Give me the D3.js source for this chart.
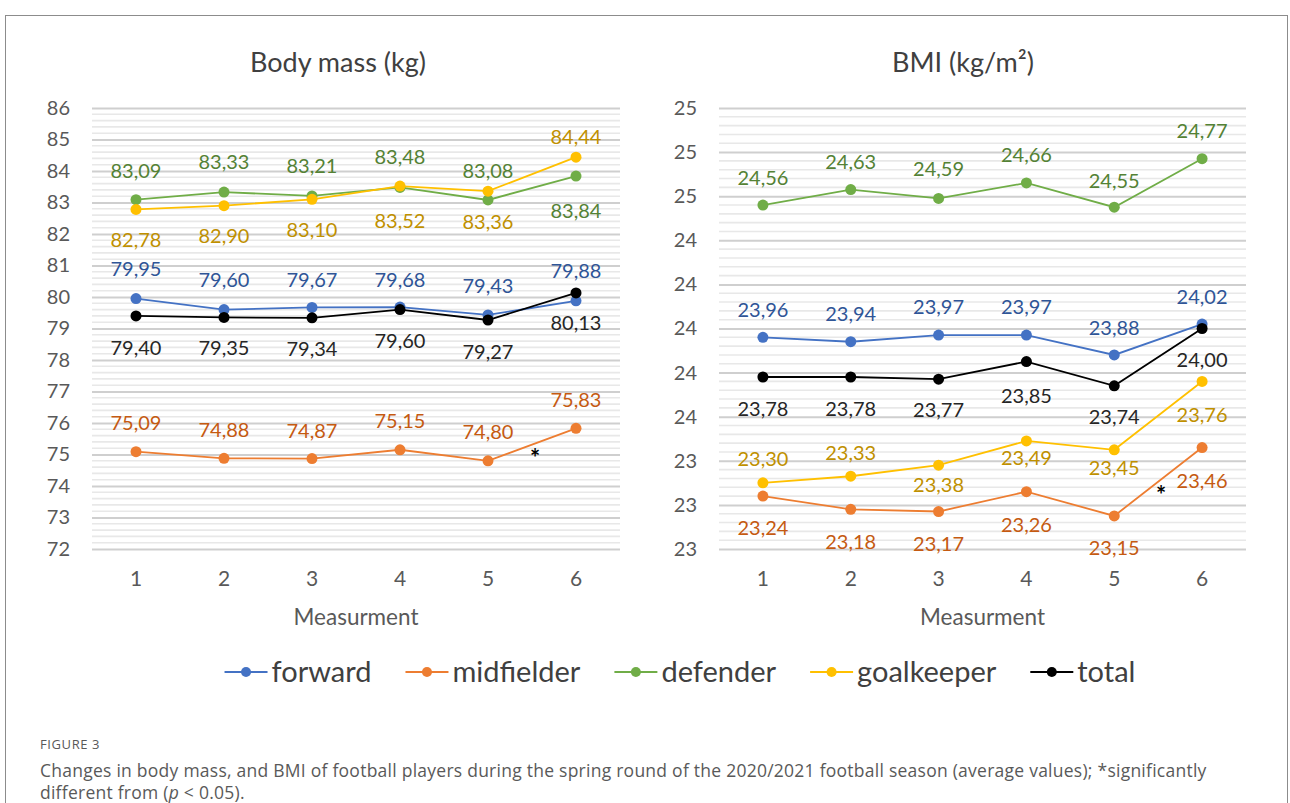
<!DOCTYPE html>
<html>
<head>
<meta charset="utf-8">
<script src="https://cdn.jsdelivr.net/npm/d3@7"></script>
<style>
  html, body { margin: 0; padding: 0; background: #fff; }
  svg { display: block; }
</style>
</head>
<body>
<svg></svg>
<script>
'use strict';

const svgWidth = 1290;
const svgHeight = 803;

// data
const measurements = [1, 2, 3, 4, 5, 6];
const seriesNames = ['forward', 'midfielder', 'defender', 'goalkeeper', 'total'];

const massForward = [79.95, 79.60, 79.67, 79.68, 79.43, 79.88];
const massMidfielder = [75.09, 74.88, 74.87, 75.15, 74.80, 75.83];
const massDefender = [83.09, 83.33, 83.21, 83.48, 83.08, 83.84];
const massGoalkeeper = [82.78, 82.90, 83.10, 83.52, 83.36, 84.44];
const massTotal = [79.40, 79.35, 79.34, 79.60, 79.27, 80.13];
const massTicks = [72, 73, 74, 75, 76, 77, 78, 79, 80, 81, 82, 83, 84, 85, 86];

const bmiForward = [23.96, 23.94, 23.97, 23.97, 23.88, 24.02];
const bmiMidfielder = [23.24, 23.18, 23.17, 23.26, 23.15, 23.46];
const bmiDefender = [24.56, 24.63, 24.59, 24.66, 24.55, 24.77];
const bmiGoalkeeper = [23.30, 23.33, 23.38, 23.49, 23.45, 23.76];
const bmiTotal = [23.78, 23.78, 23.77, 23.85, 23.74, 24.00];
const bmiTicks = [23.0, 23.2, 23.4, 23.6, 23.8, 24.0, 24.2, 24.4, 24.6, 24.8, 25.0];

// label offsets (px, relative to the point)
const massLabelDy = {
  forward: [-30, -30, -27, -27, -29, -30],
  midfielder: [-29, -28, -28, -29, -29, -28],
  defender: [-29, -30, -30, -30, -29, 35],
  goalkeeper: [31, 30, 31, 35, 31, -20],
  total: [32, 31, 31, 31, 32, 30]
};
const bmiLabelDy = {
  forward: [-27, -28, -28, -28, -27, -27],
  midfielder: [32, 33, 32, 33, 32, 33],
  defender: [-27, -28, -29, -28, -26, -28],
  goalkeeper: [-24, -23, 20, 17, 18, 34],
  total: [32, 32, 31, 34, 31, 31]
};

const lineColor = {
  forward: '#4472c4', midfielder: '#ed7d31', defender: '#70ad47',
  goalkeeper: '#ffc000', total: '#000000'
};
const labelColor = {
  forward: '#2f5597', midfielder: '#c55a11', defender: '#548235',
  goalkeeper: '#bf9000', total: '#262626'
};

const chartFont = 'Lato, "Open Sans", sans-serif';

const svg = d3.select('svg')
  .attr('width', svgWidth)
  .attr('height', svgHeight)
  .style('font-family', chartFont);

// outer frame
svg.append('rect')
  .attr('x', 5.5).attr('y', 15.5)
  .attr('width', 1282).attr('height', 820)
  .attr('fill', 'none')
  .attr('stroke', '#8c8c8c')
  .attr('stroke-width', 1);

function drawPanel(opt) {
  const g = svg.append('g');

  const x = d3.scaleBand()
    .domain(measurements)
    .range([opt.left, opt.right]);
  const cx = d => x(d) + x.bandwidth() / 2;

  const y = d3.scaleLinear()
    .domain(opt.domain)
    .range([549, 108]);

  // minor grid
  const minor = [];
  for (let i = 0; i < opt.ticks.length - 1; i++) {
    for (let k = 1; k < 5; k++) {
      minor.push(opt.ticks[i] + (opt.ticks[i + 1] - opt.ticks[i]) * k / 5);
    }
  }
  g.selectAll('line.minor')
    .data(minor)
    .join('line')
    .attr('class', 'minor')
    .attr('x1', opt.left).attr('x2', opt.right)
    .attr('y1', d => y(d)).attr('y2', d => y(d))
    .attr('stroke', '#e8e8e8')
    .attr('stroke-width', 1.6);

  // major grid + y axis labels
  const yAxis = d3.axisLeft(y)
    .tickValues(opt.ticks)
    .tickFormat(opt.tickFormat)
    .tickSize(-(opt.right - opt.left))
    .tickPadding(22);
  const ya = g.append('g')
    .attr('transform', `translate(${opt.left},0)`)
    .call(yAxis);
  ya.select('.domain').remove();
  ya.selectAll('line').attr('stroke', '#cfcfcf').attr('stroke-width', 2);
  ya.selectAll('text')
    .attr('fill', '#595959')
    .style('font-size', '20px')
    .style('font-family', chartFont);

  // x axis labels
  const xAxis = d3.axisBottom(x).tickSize(0).tickPadding(22);
  const xa = g.append('g')
    .attr('transform', 'translate(0,549)')
    .call(xAxis);
  xa.select('.domain').remove();
  xa.selectAll('text')
    .attr('fill', '#595959')
    .style('font-size', '21px')
    .style('font-family', chartFont);

  g.append('text')
    .attr('x', (opt.left + opt.right) / 2)
    .attr('y', 625)
    .attr('text-anchor', 'middle')
    .attr('fill', '#595959')
    .style('font-size', '22.5px')
    .text('Measurment');

  // title
  g.append('text')
    .attr('x', opt.titleX)
    .attr('y', 72)
    .attr('text-anchor', 'middle')
    .attr('fill', '#404040')
    .style('font-size', '27px')
    .text(opt.title);

  const line = d3.line()
    .x(d => cx(d.m))
    .y(d => y(d.v));

  seriesNames.forEach(name => {
    const pts = opt.series[name].map((v, i) => ({ m: measurements[i], v: v, i: i }));
    g.append('path')
      .datum(pts)
      .attr('fill', 'none')
      .attr('stroke', lineColor[name])
      .attr('stroke-width', 1.8)
      .attr('d', line);
    g.selectAll(null)
      .data(pts)
      .join('circle')
      .attr('cx', d => cx(d.m))
      .attr('cy', d => y(d.v))
      .attr('r', 5.5)
      .attr('fill', lineColor[name]);
    g.selectAll(null)
      .data(pts)
      .join('text')
      .attr('x', d => cx(d.m))
      .attr('y', d => y(d.v) + opt.labelDy[name][d.i])
      .attr('dy', '0.35em')
      .attr('text-anchor', 'middle')
      .attr('fill', labelColor[name])
      .style('font-size', '20px')
      .text(d => d3.format('.2f')(d.v).replace('.', ','));
  });

  // significance mark between measurement 5 and 6 (midfielder)
  const mid = opt.series.midfielder;
  g.append('text')
    .attr('x', (cx(5) + cx(6)) / 2 + 3)
    .attr('y', y((mid[4] + mid[5]) / 2) + 8)
    .attr('dy', '0.6em')
    .attr('text-anchor', 'middle')
    .attr('fill', '#000')
    .style('font-size', '24px')
    .style('font-weight', 'bold')
    .text('*');
}

drawPanel({
  left: 92, right: 620, titleX: 338,
  title: 'Body mass (kg)',
  domain: [72, 86], ticks: massTicks,
  tickFormat: d3.format('d'),
  labelDy: massLabelDy,
  series: {
    forward: massForward, midfielder: massMidfielder, defender: massDefender,
    goalkeeper: massGoalkeeper, total: massTotal
  }
});

drawPanel({
  left: 719, right: 1246, titleX: 963,
  title: 'BMI (kg/m²)',
  domain: [23, 25], ticks: bmiTicks,
  tickFormat: d => d3.format('.0f')(d),
  labelDy: bmiLabelDy,
  series: {
    forward: bmiForward, midfielder: bmiMidfielder, defender: bmiDefender,
    goalkeeper: bmiGoalkeeper, total: bmiTotal
  }
});

// legend
const legend = svg.append('g');
let lx = 0;
seriesNames.forEach(name => {
  const item = legend.append('g').attr('transform', `translate(${lx},0)`);
  item.append('line')
    .attr('x1', 0).attr('x2', 43)
    .attr('y1', 0).attr('y2', 0)
    .attr('stroke', lineColor[name])
    .attr('stroke-width', 2);
  item.append('circle')
    .attr('cx', 21.5).attr('cy', 0).attr('r', 5)
    .attr('fill', lineColor[name]);
  const t = item.append('text')
    .attr('x', 47)
    .attr('dy', '0.35em')
    .attr('fill', '#404040')
    .style('font-size', '29px')
    .text(name);
  lx += 47 + t.node().getComputedTextLength() + 34;
});
const legendW = lx - 34;
legend.attr('transform', `translate(${680 - legendW / 2},672)`);

// caption
const cap = svg.append('g')
  .style('font-family', '"Open Sans", sans-serif')
  .attr('fill', '#595959');
cap.append('text')
  .attr('x', 40).attr('y', 749)
  .style('font-size', '13px')
  .style('letter-spacing', '0.6px')
  .text('FIGURE 3');
cap.append('text')
  .attr('x', 40).attr('y', 777)
  .style('font-size', '17.5px')
  .style('letter-spacing', '0.25px')
  .text('Changes in body mass, and BMI of football players during the spring round of the 2020/2021 football season (average values); *significantly');
const l2 = cap.append('text')
  .attr('x', 40).attr('y', 799)
  .style('font-size', '17.5px')
  .style('letter-spacing', '0.25px');
l2.append('tspan').text('different from (');
l2.append('tspan').style('font-style', 'italic').text('p');
l2.append('tspan').text(' < 0.05).');
</script>
</body>
</html>
